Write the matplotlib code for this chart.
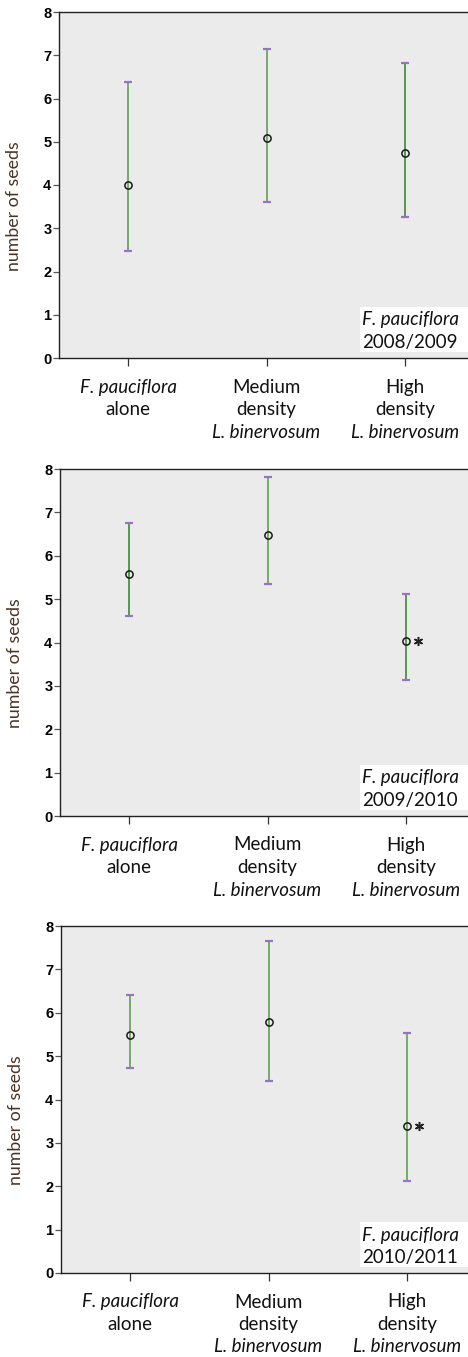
import numpy as np
import matplotlib
matplotlib.use("Agg")
import matplotlib.pyplot as plt
from matplotlib.patches import Rectangle

# values (means and interval ends)
years = ["2008/2009", "2009/2010", "2010/2011"]
means = [[4.00, 5.09, 4.74],
         [5.59, 6.47, 4.03],
         [5.49, 5.78, 3.38]]
upper = [[6.38, 7.15, 6.83],
         [6.75, 7.82, 5.12],
         [6.40, 7.66, 5.53]]
lower = [[2.48, 3.61, 3.27],
         [4.62, 5.35, 3.14],
         [4.72, 4.42, 2.12]]
signif = [[False, False, False],
          [False, False, True],
          [False, False, True]]
# shade of green used for each bar
shade = [["l", "l", "d"],
         ["d", "l", "d"],
         ["l", "l", "l"]]

cat_lines = [[("F. pauciflora", "italic"), ("alone", "normal")],
             [("Medium", "normal"), ("density", "normal"), ("L. binervosum", "italic")],
             [("High", "normal"), ("density", "normal"), ("L. binervosum", "italic")]]
yticks = [0, 1, 2, 3, 4, 5, 6, 7, 8]

green = {"l": "#62a055", "d": "#3b8b32"}
purple = "#9a72c4"
bg = "#ebebeb"
txt_font = "Lato"
fs = 13.5

W, H = 468, 1357
fig = plt.figure(figsize=(W / 100, H / 100), dpi=100)

# panel pixel geometry: (left, top, bottom)
panels = [(59, 12, 358), (60, 469, 816), (61, 926, 1273)]
ax_w = 415

for k in range(3):
    left, top, bot = panels[k]
    ax = fig.add_axes([left / W, (H - bot) / H, ax_w / W, (bot - top) / H])
    ax.set_facecolor(bg)
    x = np.arange(3)
    for i in range(3):
        m = means[k][i]
        err = [[m - lower[k][i]], [upper[k][i] - m]]
        eb = ax.errorbar(x[i], m, yerr=err, fmt="none", ecolor=green[shade[k][i]],
                         elinewidth=1.2, capsize=3.2, capthick=1.6, zorder=2)
        for cap in eb[1]:
            cap.set_markeredgecolor(purple)
            cap.set_markerfacecolor(purple)
        ax.plot(x[i], m, "o", ms=5.2, mfc="none", mec="#1a1a1a", mew=1.1, zorder=3)
        if signif[k][i]:
            ax.plot(x[i] + 0.09, m, marker=(6, 2, 0), ms=6.5, mec="#222222",
                    mew=1.1, ls="none", zorder=3)

    ax.set_xlim(-0.5, 2.5)
    ax.set_ylim(0, 8)
    ax.set_yticks(yticks)
    ax.set_yticklabels([str(t) for t in yticks], fontfamily="Liberation Sans",
                       fontweight="bold", fontsize=10.5)
    ax.set_xticks(x)
    ax.set_xticklabels([])
    ax.tick_params(axis="y", length=4.5, width=0.9, color="#555555", pad=1)
    ax.tick_params(axis="x", length=5.5, width=0.9, color="#333333")
    for s in ["left", "bottom", "top"]:
        ax.spines[s].set_color("#222222")
        ax.spines[s].set_linewidth(1.0)
    ax.spines["right"].set_visible(False)

    ax.set_ylabel("number of seeds", fontfamily=txt_font, fontsize=12.8, color="#4a3424")
    ax.yaxis.set_label_coords(-0.09, 0.44)

    # category labels under the axis
    for i in range(3):
        for j, (s, st) in enumerate(cat_lines[i]):
            ax.annotate(s, xy=(x[i], 0), xycoords=("data", "axes fraction"),
                        xytext=(0, -29 - 22.5 * j), textcoords="offset pixels",
                        ha="center", va="center", fontsize=fs, fontstyle=st,
                        fontfamily=txt_font, color="#111111", annotation_clip=False)

    # white box with species and season
    hpx = bot - top
    ax.add_patch(Rectangle(((360 - left) / ax_w, 6 / hpx), 108 / ax_w, 45 / hpx,
                           transform=ax.transAxes, facecolor="white",
                           edgecolor="none", zorder=4, clip_on=False))
    ax.text((362 - left) / ax_w, 38 / hpx, "F. pauciflora", transform=ax.transAxes,
            fontsize=fs, fontstyle="italic", fontfamily=txt_font, va="center",
            ha="left", color="#111111", zorder=5)
    ax.text((362 - left) / ax_w, 15.5 / hpx, years[k], transform=ax.transAxes,
            fontsize=fs, fontfamily=txt_font, va="center", ha="left",
            color="#111111", zorder=5)

fig.savefig("out.png", dpi=100, facecolor="white")
